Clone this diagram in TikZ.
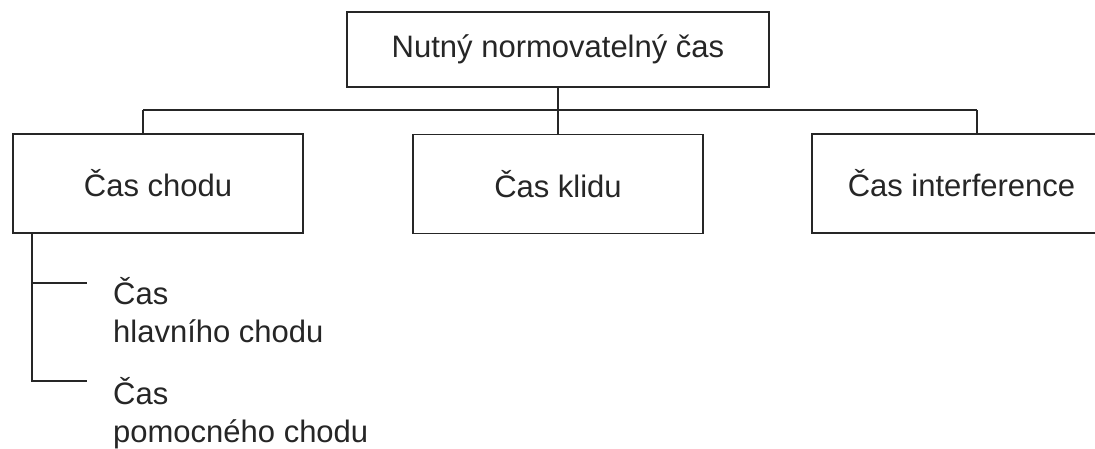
\documentclass[tikz,border=0pt]{standalone}
\usepackage{fontspec}
\setmainfont{Liberation Sans}
\begin{document}
\begin{tikzpicture}[x=1pt,y=-1pt,
  line/.style={draw=black!85,line width=1.6pt},
  box/.style={line,fill=white,inner sep=0pt,minimum height=99pt,
    minimum width=290pt,text=black!85,font=\fontsize{31}{37}\selectfont},
  sublabel/.style={inner sep=0pt,anchor=base west,align=left,text=black!85,
    font=\fontsize{31}{38}\selectfont}]
\useasboundingbox (0,0) rectangle (1095,448);
\clip (0,0) rectangle (1095,448);
\fill[white] (0,0) rectangle (1095,448);

% boxes
\node[box,minimum width=422pt,minimum height=75pt] (top) at (558,49.5) {Nutný normovatelný čas};
\node[box] (chod) at (158,183.5) {Čas chodu};
\node[box] (klid) at (558,184) {Čas klidu};
\node[box,minimum width=299pt] (interf) at (961.5,183.5) {Čas interference};

% bus between the top box and the three children
\coordinate (busL) at (143,110);
\coordinate (busR) at (977,110);
\draw[line] (top.south) -- (klid.north);
\draw[line] (busL) -- (busR);
\draw[line] (busL) -- (busL |- chod.north);
\draw[line] (busR) -- (busR |- interf.north);

% sub-items of the first child
\coordinate (stem) at (32,233);
\coordinate (br1) at (87,283);
\coordinate (br2) at (87,381);
\draw[line] (stem) |- (br2);
\draw[line] (stem |- br1) -- (br1);

% the base anchor of a two-line label sits on its last line
\node[sublabel] (hlavni) at (113,342) {Čas\\hlavního chodu};
\node[sublabel] (pomocny) at (113,442) {Čas\\pomocného chodu};
\end{tikzpicture}
\end{document}
